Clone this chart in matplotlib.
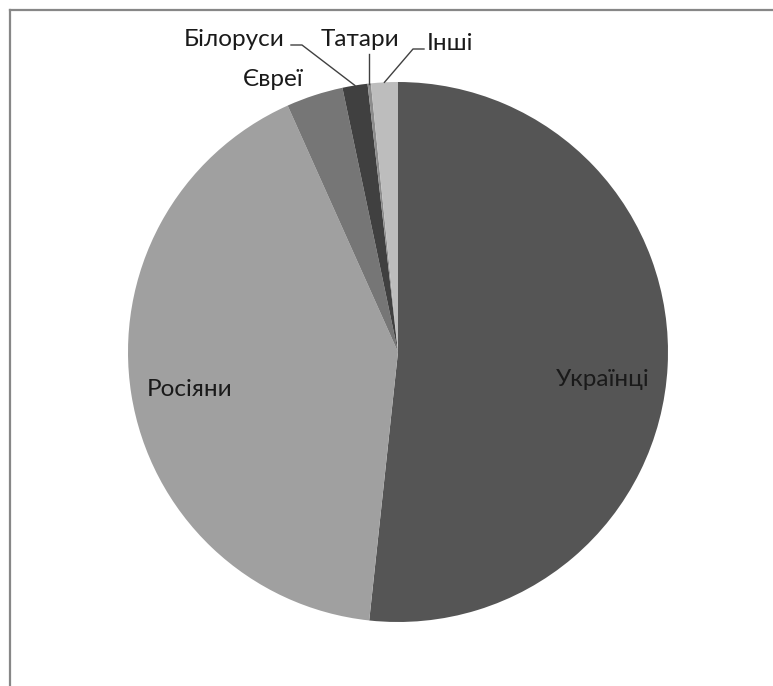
import matplotlib
matplotlib.use("Agg")
import matplotlib.pyplot as plt
import numpy as np
from matplotlib.lines import Line2D

plt.rcParams['font.family'] = ['Lato', 'DejaVu Sans']

categories = ["Українці", "Росіяни", "Євреї", "Білоруси", "Татари", "Інші"]
values = [51.7, 41.6, 3.4, 1.5, 0.2, 1.6]
colors = ["#555555", "#a0a0a0", "#767676", "#404040", "#8c8c8c", "#bdbdbd"]

W, H = 773, 686
fig = plt.figure(figsize=(W / 100, H / 100), dpi=100)
ax = fig.add_axes([0, 0, 1, 1])
cx, cy, R = 398, 352, 270

wedges, _ = ax.pie(values, colors=colors, startangle=90, counterclock=False,
                   radius=1.0, center=(0, 0), frame=True,
                   wedgeprops=dict(linewidth=0))
ax.set_xlim(-cx / R, (W - cx) / R)
ax.set_ylim(-(H - cy) / R, cy / R)
ax.set_aspect('auto')
ax.axis('off')

txtkw = dict(fontsize=17.5, color="#1a1a1a")

def mid(w):
    return np.deg2rad((w.theta1 + w.theta2) / 2)

def px(x, y):
    return ((x - cx) / R, (cy - y) / R)

# inside labels
ax.text(*px(603, 380), categories[0], ha='center', va='center', **txtkw)
ax.text(*px(190, 390), categories[1], ha='center', va='center', **txtkw)
# Євреї (no leader)
ax.text(*px(273, 79), categories[2], ha='center', va='center', **txtkw)

lc = "#404040"
# Білоруси
a = mid(wedges[3])
p = (np.cos(a), np.sin(a))
e1 = px(302, 45); e2 = px(291, 45)
ax.plot([p[0], e1[0], e2[0]], [p[1], e1[1], e2[1]], color=lc, lw=1)
ax.text(*px(234, 40), categories[3], ha='center', va='center', **txtkw)
# Татари
a = mid(wedges[4])
p = (np.cos(a), np.sin(a))
e1 = px(0, 54)
ax.plot([p[0], p[0]], [p[1], e1[1]], color=lc, lw=1)
ax.text(*px(360, 40), categories[4], ha='center', va='center', **txtkw)
# Інші
a = mid(wedges[5])
p = (np.cos(a), np.sin(a))
e1 = px(413, 49); e2 = px(424, 49)
ax.plot([p[0], e1[0], e2[0]], [p[1], e1[1], e2[1]], color=lc, lw=1)
ax.text(*px(427, 44), categories[5], ha='left', va='center', **txtkw)

# chart border
bc = "#878787"
fig.add_artist(Line2D([9.5 / W, 9.5 / W], [0, 1 - 10 / H], color=bc, lw=1.6, transform=fig.transFigure))
fig.add_artist(Line2D([9.5 / W, 1], [1 - 10 / H, 1 - 10 / H], color=bc, lw=1.6, transform=fig.transFigure))

fig.savefig("out.png", dpi=100, facecolor="white")
